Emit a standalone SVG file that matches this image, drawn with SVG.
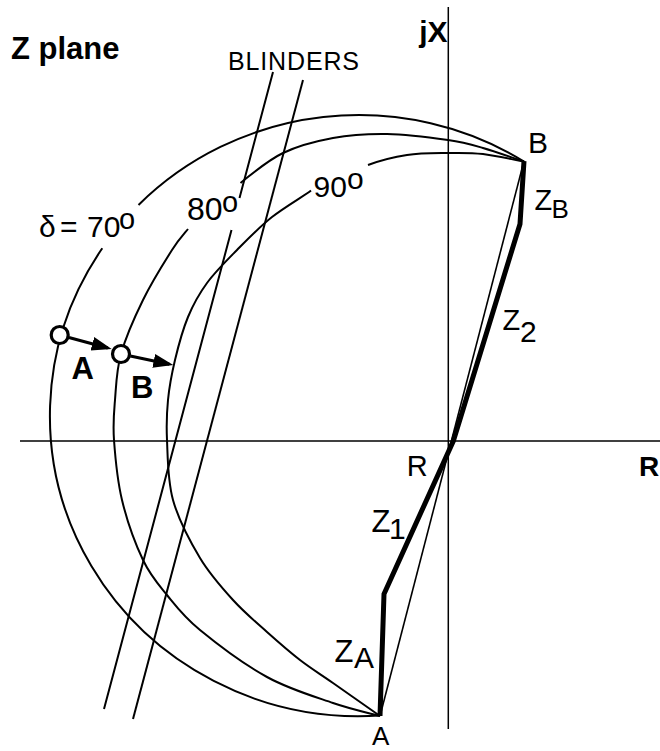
<svg xmlns="http://www.w3.org/2000/svg" width="660" height="751" viewBox="0 0 660 751">
<defs>
<style>
.ax{stroke:#000;stroke-width:1.5;fill:none}
.arc{stroke:#000;stroke-width:2;fill:none}
.bl{stroke:#000;stroke-width:2;fill:none}
.thin{stroke:#000;stroke-width:1.6;fill:none}
.thick{stroke:#000;stroke-width:5;fill:none;stroke-linejoin:miter}
.mv{stroke:#000;stroke-width:3;fill:none}
.pt{stroke:#000;stroke-width:3.2;fill:#fff}
text{font-family:"Liberation Sans",Arial,Helvetica,sans-serif;fill:#000}
.b{font-weight:bold}
</style>
<marker id="ah" markerUnits="userSpaceOnUse" markerWidth="22" markerHeight="16" refX="16" refY="7" orient="auto"><path d="M0,0 L20,7 L0,14 z" fill="#000"/></marker>
</defs>
<rect width="660" height="751" fill="#fff"/>

<g id="axes">
<line class="ax" x1="448.3" y1="7" x2="448.3" y2="729"/>
<line class="ax" x1="20" y1="441" x2="660" y2="441"/>
</g>

<g id="arc70">
<path class="arc" d="M380,715.5 A309,300.5 0 0 1 102.3,248.3"/>
<path class="arc" d="M138.5,205 A309,300.5 0 0 1 524,161.5"/>
</g>

<g id="arc80">
<path class="arc" d="M380,716 C372.2,713.8 351.8,709.5 333,703 C314.2,696.5 289.2,689.2 267,677 C244.8,664.8 216.7,643.7 200,630 C183.3,616.3 176.5,606.7 167,595 C157.5,583.3 150.5,575.8 143,560 C135.5,544.2 126.8,520 122,500 C117.2,480 115.2,456.7 114,440 C112.8,423.3 113.8,414.3 115,400 C116.2,385.7 116.3,370.7 121,354 C125.7,337.3 134.5,317.3 143,300 C151.5,282.7 164.5,261.8 172,250 C179.5,238.2 185.3,232.5 188,229"/>
<path class="arc" d="M240.5,183 C257.8,169.3 267.8,160.3 283,153 C298.2,145.7 315.7,141.2 333,138 C350.3,134.8 367.8,133.7 387,134 C406.2,134.3 432,137.7 448,140 C464,142.3 470.2,144.3 483,148 C495.8,151.7 518,159.7 524,161.5"/>
</g>

<g id="arc90">
<path class="arc" d="M380,716 C372.2,710.5 346.3,692.3 333,683 C319.7,673.7 311,668.5 300,660 C289,651.5 278.2,642 267,632 C255.8,622 244.2,612.3 233,600 C221.8,587.7 210,574.7 200,558 C190,541.3 178.5,519.7 173,500 C167.5,480.3 167.8,456.7 167,440 C166.2,423.3 166.7,413.3 168,400 C169.3,386.7 171.7,373.8 175,360 C178.3,346.2 182.7,329.8 188,317 C193.3,304.2 198.8,294.2 207,283 C215.2,271.8 226.2,261 237,250 C247.8,239 259.3,227 272,217 C284.7,207 306.2,194.5 311,190.5"/>
<path class="arc" d="M368,165 C383.7,159.2 393.7,157 407,155 C420.3,153 435.3,153.2 448,153 C460.7,152.8 470.2,152.5 483,154 C495.8,155.5 518,160.7 524,161.5"/>
</g>

<g id="blinders">
<path class="bl" d="M273,72 L239.5,198 M231.5,230 L104,709"/>
<path class="bl" d="M303,80 L133,719"/>
</g>

<g id="impedance">
<line class="thin" x1="380" y1="716" x2="524" y2="161"/>
<path class="thick" d="M524,161 L520,224 L453.3,441 L384,594 L380,716"/>
</g>

<g id="swing">
<line class="mv" x1="68.9" y1="337.5" x2="107.8" y2="348" marker-end="url(#ah)"/>
<line class="mv" x1="130.3" y1="356" x2="169.4" y2="364.2" marker-end="url(#ah)"/>
<circle id="pointA" class="pt" cx="59.7" cy="335" r="8.5"/>
<circle id="pointB" class="pt" cx="121" cy="354" r="8.5"/>
</g>

<g id="labels">
<text class="b" x="11" y="58.5" font-size="31">Z plane</text>
<text x="228" y="69.5" font-size="25" textLength="131" lengthAdjust="spacing">BLINDERS</text>
<text class="b" x="447.5" y="41.7" font-size="30" text-anchor="end">jX</text>
<text x="39" y="236.7" font-size="30">δ</text>
<text x="60" y="236.7" font-size="30">=</text>
<text x="87" y="236.7" font-size="30">70<tspan x="119" y="228.5" font-size="29">o</tspan></text>
<text x="187" y="220" font-size="32">80<tspan x="222" y="212" font-size="29">o</tspan></text>
<text x="313.5" y="197" font-size="30">90<tspan x="347" y="188.5" font-size="30">o</tspan></text>
<text x="528" y="153.3" font-size="30">B</text>
<text x="534.5" y="210" font-size="29">Z<tspan x="551.5" y="218.3" font-size="26">B</tspan></text>
<text x="502.5" y="330" font-size="29">Z<tspan x="520" y="341.7" font-size="30">2</tspan></text>
<text x="406.7" y="476" font-size="29">R</text>
<text class="b" x="639" y="476" font-size="28">R</text>
<text x="371.5" y="531.7" font-size="31">Z<tspan x="389" y="539.3" font-size="30">1</tspan></text>
<text x="334.5" y="661.7" font-size="31">Z<tspan x="354" y="668.3" font-size="30">A</tspan></text>
<text x="372" y="745" font-size="26">A</text>
<text class="b" x="71.5" y="379" font-size="31">A</text>
<text class="b" x="131" y="398" font-size="31">B</text>
</g>
</svg>
